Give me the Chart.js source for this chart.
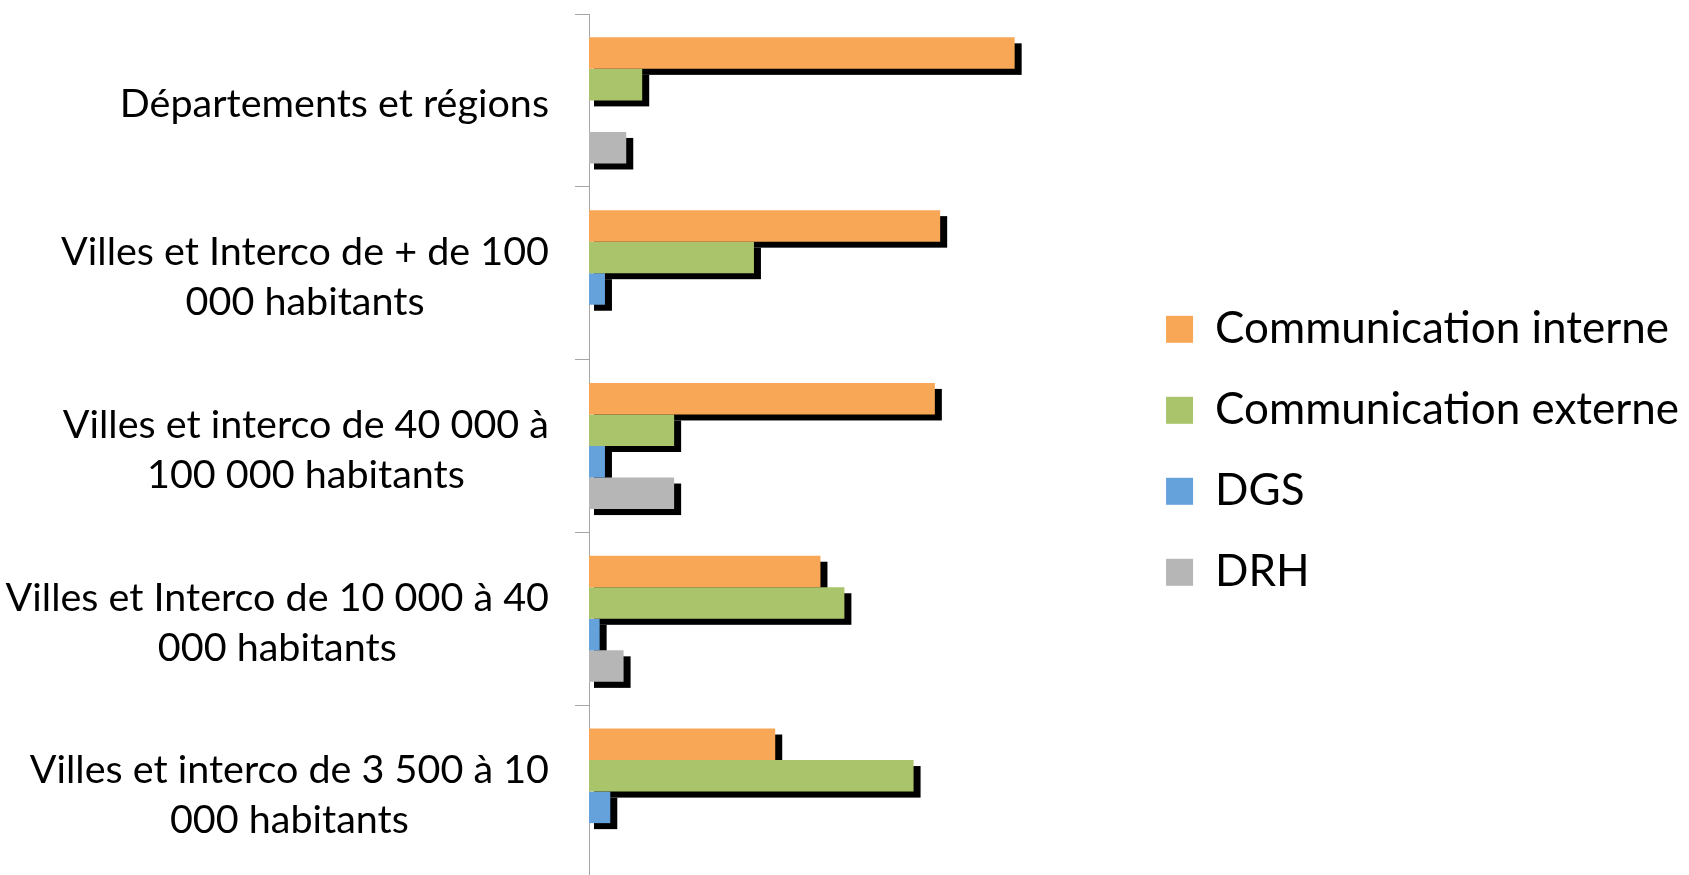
<!DOCTYPE html>
<html>
<head>
<meta charset="utf-8">
<script src="https://cdn.jsdelivr.net/npm/chart.js@4"></script>
<style>
  body { margin: 0; overflow: hidden; background: #fff; }
  #wrap { position: absolute; left: 0; top: 0; width: 1689px; height: 880px; }
</style>
</head>
<body>
<div id="wrap"><canvas id="myChart"></canvas></div>
<script>
// categories, one array of lines each
var categories = [
    ["Départements et régions"],
    ["Villes et Interco de + de 100", "000 habitants"],
    ["Villes et interco de 40 000 à", "100 000 habitants"],
    ["Villes et Interco de 10 000 à 40", "000 habitants"],
    ["Villes et interco de 3 500 à 10", "000 habitants"]
];

var seriesNames = ["Communication interne", "Communication externe", "DGS", "DRH"];

var comInterne = [80, 66, 65, 43.5, 35];
var comExterne = [10, 31, 16, 48, 61];
var dgs = [0, 3, 3, 2, 4];
var drh = [7, 0, 16, 6.5, 0];

var colors = ["#F8A757", "#AAC46B", "#65A1DB", "#B6B6B6"];

// black drop shadow behind every bar, drawn before the bars themselves
var shadowPlugin = {
    id: 'barShadow',
    beforeDatasetsDraw: function(chart) {
        var ctx = chart.ctx;
        ctx.save();
        ctx.fillStyle = '#000';
        chart.data.datasets.forEach(function(ds, d) {
            var meta = chart.getDatasetMeta(d);
            meta.data.forEach(function(bar, i) {
                if (!ds.data[i]) return;
                var left = Math.min(bar.x, bar.base);
                var w = Math.abs(bar.x - bar.base);
                ctx.fillRect(left + 5, bar.y - bar.height / 2 + 6, w + 2, bar.height);
            });
        });
        ctx.restore();
    }
};

// category labels: block right aligned against the axis, lines centred inside the block
var labelPlugin = {
    id: 'catLabels',
    afterDraw: function(chart) {
        var ctx = chart.ctx;
        var yScale = chart.scales.y;
        var right = chart.chartArea.left - 40;
        var lineH = 50;
        ctx.save();
        ctx.font = '39.5px Lato';
        ctx.fillStyle = '#000';
        ctx.textAlign = 'center';
        ctx.textBaseline = 'middle';
        for (var i = 0; i < categories.length; i++) {
            var lines = categories[i];
            var widest = 0;
            for (var j = 0; j < lines.length; j++) {
                widest = Math.max(widest, ctx.measureText(lines[j]).width);
            }
            var cx = right - widest / 2;
            var y0 = yScale.getPixelForValue(i) + 4 - (lines.length - 1) * lineH / 2;
            for (j = 0; j < lines.length; j++) {
                ctx.fillText(lines[j], cx, y0 + j * lineH);
            }
        }
        ctx.restore();
    }
};

var allData = [comInterne, comExterne, dgs, drh];
var datasets = [];
for (var k = 0; k < seriesNames.length; k++) {
    datasets.push({
        label: seriesNames[k],
        data: allData[k],
        backgroundColor: colors[k],
        borderWidth: 0,
        barPercentage: 1.0,
        categoryPercentage: 0.73
    });
}

var ctx = document.getElementById('myChart').getContext('2d');
var chart = new Chart(ctx, {
    type: 'bar',
    data: {
        labels: categories,
        datasets: datasets
    },
    options: {
        indexAxis: 'y',
        responsive: true,
        maintainAspectRatio: false,
        animation: false,
        layout: {
            padding: { left: 575, top: 14, bottom: 2, right: 0 }
        },
        scales: {
            x: {
                display: false,
                min: 0,
                max: 101.5
            },
            y: {
                offset: true,
                ticks: { display: false },
                grid: {
                    offset: true,
                    drawOnChartArea: false,
                    drawTicks: true,
                    tickLength: 14,
                    color: '#A6A6A6'
                },
                border: { display: true, color: '#A6A6A6', width: 1 }
            }
        },
        plugins: {
            legend: {
                position: 'right',
                align: 'center',
                maxWidth: 620,
                // empty title only nudges the items down a little
                title: { display: true, text: '', font: { size: 8 }, padding: 0 },
                labels: {
                    font: { family: 'Lato', size: 44 },
                    color: '#000',
                    boxWidth: 27,
                    boxHeight: 27,
                    padding: 37
                }
            },
            tooltip: { enabled: false }
        }
    },
    plugins: [shadowPlugin, labelPlugin]
});
</script>
</body>
</html>
